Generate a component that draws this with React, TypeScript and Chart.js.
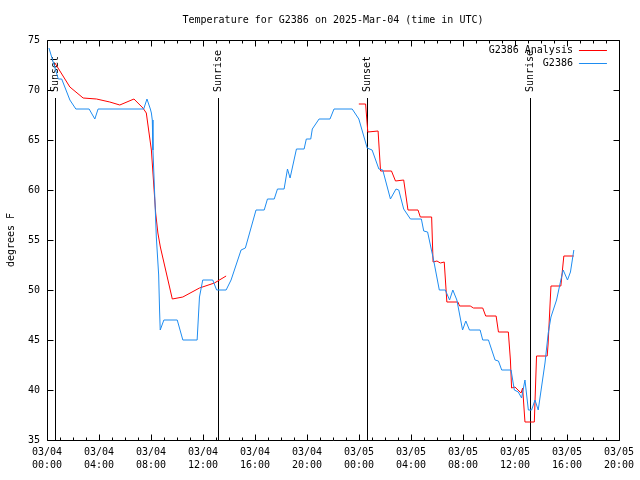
import React, { useEffect, useRef } from "react";
import { Chart, registerables } from "chart.js";

Chart.register(...registerables);

// ---- Data (x = hours since 03/04 00:00 UTC) ----
const blueHours = [
  0.15, 0.87, 1.13, 1.76, 2.22, 3.24, 3.68, 3.93, 7.44, 7.69, 7.95, 8.03, 8.1, 8.15,
  8.28, 8.41, 8.59, 8.66, 8.71, 8.99, 10.02, 10.45, 11.55, 11.73, 11.98, 12.75, 13.05,
  13.78, 14.16, 14.93, 15.26, 16.08, 16.71, 16.96, 17.48, 17.73, 18.24, 18.5, 18.7,
  19.19, 19.78, 19.95, 20.29, 20.41, 20.93, 21.77, 22.08, 23.48, 23.99, 24.63, 25.01,
  25.53, 25.83, 26.42, 26.85, 27.06, 27.44, 27.96, 28.8, 28.98, 29.28, 29.74, 30.18,
  30.64, 30.97, 31.22, 31.53, 31.97, 32.22, 32.5, 33.32, 33.52, 33.96, 34.47, 34.73,
  34.98, 35.7, 35.95, 36.26, 36.51, 36.77, 37.03, 37.28, 37.54, 37.79, 38.31, 38.56,
  38.77, 39.2, 39.53, 39.71, 40.04, 40.27, 40.53,
];
const blueTemps = [
  74.2, 71.1, 71.1, 69.0, 68.1, 68.1, 67.1, 68.1, 68.1, 69.1, 68.1, 67.7, 67.0, 64.0,
  59.7, 55.3, 51.5, 48.0, 46.0, 47.0, 47.0, 45.0, 45.0, 49.3, 51.0, 51.0, 50.0,
  50.0, 51.0, 54.0, 54.2, 58.0, 58.0, 59.1, 59.1, 60.1, 60.1, 62.1, 61.2,
  64.1, 64.1, 65.1, 65.1, 66.1, 67.1, 67.1, 68.1, 68.1, 67.1, 64.2, 64.0,
  62.1, 62.0, 59.1, 60.1, 60.0, 58.1, 57.1, 57.1, 55.9, 55.8, 53.0, 50.0,
  50.0, 49.0, 50.0, 49.0, 46.0, 46.9, 46.0, 46.0, 45.0, 45.0, 43.0, 42.9,
  42.0, 42.0, 40.0, 39.8, 39.2, 41.0, 38.0, 38.0, 39.0, 38.0, 42.7, 45.7,
  47.3, 49.0, 51.0, 52.0, 51.0, 51.8, 54.0,
];

const analysisHours = [
  0.61, 1.76, 2.78, 3.81, 4.83, 5.6, 6.69, 7.38, 7.64, 8.03, 8.36, 8.53, 8.72, 9.64,
  10.45, 11.73, 12.88, 13.78,
  18.0,
  23.99, 24.51, 24.68, 25.47, 25.66, 26.5, 26.81, 27.44, 27.77, 28.54, 28.72, 29.59,
  29.7, 30.0, 30.26, 30.56, 30.76, 31.61, 31.74, 32.56, 32.81, 33.52, 33.75, 34.55,
  34.73, 35.49, 35.65, 35.74, 36.0, 36.47, 36.59, 36.77, 37.49, 37.66, 38.48, 38.55,
  38.77, 39.53, 39.76, 40.53,
];
const analysisTemps: (number | null)[] = [
  72.7, 70.3, 69.2, 69.1, 68.8, 68.5, 69.1, 68.2, 67.7, 64.0, 57.7, 55.7, 54.3, 49.1,
  49.3, 50.2, 50.7, 51.4,
  null,
  68.6, 68.6, 65.8, 65.9, 61.9, 61.9, 60.9, 61.0, 58.0, 58.0, 57.3, 57.3,
  52.8, 52.9, 52.7, 52.8, 48.8, 48.8, 48.4, 48.4, 48.2, 48.2, 47.4, 47.4,
  45.8, 45.8, 43.0, 40.2, 40.3, 39.7, 40.2, 36.8, 36.8, 43.4, 43.4, 44.6,
  50.4, 50.4, 53.4, 53.4,
];

const sunHours = [0.58, 13.13, 24.63, 37.13];
const sunLabels = ["Sunset", "Sunrise", "Sunset", "Sunrise"];

const seriesNames = ["G2386 Analysis", "G2386"];
const seriesColors = ["#ff0000", "#1e8cf0"];

const xMin = 0;
const xMax = 44;
const yMin = 35;
const yMax = 75;
const titleText = "Temperature for G2386 on 2025-Mar-04 (time in UTC)";
const yTitle = "degrees F";

const FONT = "'DejaVu Sans Mono', 'Liberation Mono', monospace";

function tickLabel(v: number): string[] {
  const day = 4 + Math.floor(v / 24);
  const hr = v % 24;
  return ["03/0" + day, (hr < 10 ? "0" : "") + hr + ":00"];
}

const gnuplotPlugin = {
  id: "gnuplotDecor",
  beforeDatasetsDraw(chart: any) {
    const ctx = chart.ctx;
    const xs = chart.scales.x;
    const a = chart.chartArea;
    ctx.save();
    ctx.strokeStyle = "#000";
    ctx.lineWidth = 1;
    ctx.fillStyle = "#000";
    ctx.font = "10px " + FONT;
    sunHours.forEach((h, i) => {
      const px = Math.round(xs.getPixelForValue(h)) + 0.5;
      ctx.beginPath();
      ctx.moveTo(px, a.bottom);
      ctx.lineTo(px, a.top + 58);
      ctx.stroke();
      ctx.save();
      ctx.translate(px, a.top + 52);
      ctx.rotate(-Math.PI / 2);
      ctx.textAlign = "left";
      ctx.textBaseline = "middle";
      ctx.fillText(sunLabels[i], 0, 0);
      ctx.restore();
    });
    ctx.restore();
  },
  afterDraw(chart: any) {
    const ctx = chart.ctx;
    const xs = chart.scales.x;
    const ys = chart.scales.y;
    const a = chart.chartArea;
    const L = Math.round(a.left) + 0.5;
    const R = Math.round(a.right) + 0.5;
    const T = Math.round(a.top) + 0.5;
    const B = Math.round(a.bottom) + 0.5;
    ctx.save();
    ctx.strokeStyle = "#000";
    ctx.lineWidth = 1;
    ctx.beginPath();
    ctx.moveTo(L, T);
    ctx.lineTo(R, T);
    ctx.lineTo(R, B);
    ctx.lineTo(L, B);
    ctx.closePath();
    ctx.stroke();
    // x ticks (major every 4h, minor every hour), inward, bottom and top
    ctx.beginPath();
    for (let h = xMin; h <= xMax; h++) {
      const px = Math.round(xs.getPixelForValue(h)) + 0.5;
      const len = h % 4 === 0 ? 6 : 3;
      ctx.moveTo(px, B);
      ctx.lineTo(px, B - len);
      ctx.moveTo(px, T);
      ctx.lineTo(px, T + len);
    }
    for (let v = yMin; v <= yMax; v += 5) {
      const py = Math.round(ys.getPixelForValue(v)) + 0.5;
      ctx.moveTo(L, py);
      ctx.lineTo(L + 6, py);
      ctx.moveTo(R, py);
      ctx.lineTo(R - 6, py);
    }
    ctx.stroke();

    ctx.fillStyle = "#000";
    ctx.font = "10px " + FONT;
    // title
    ctx.textAlign = "center";
    ctx.textBaseline = "middle";
    ctx.fillText(titleText, (a.left + a.right) / 2, 20);
    // y title
    ctx.save();
    ctx.translate(11, (a.top + a.bottom) / 2);
    ctx.rotate(-Math.PI / 2);
    ctx.fillText(yTitle, 0, 0);
    ctx.restore();
    // legend
    ctx.textAlign = "right";
    seriesNames.forEach((name, i) => {
      const y = a.top + 10 + i * 13;
      ctx.fillStyle = "#000";
      ctx.fillText(name, a.right - 46, y);
      ctx.strokeStyle = seriesColors[i];
      ctx.beginPath();
      ctx.moveTo(a.right - 40, Math.round(y) + 0.5);
      ctx.lineTo(a.right - 12, Math.round(y) + 0.5);
      ctx.stroke();
    });
    ctx.restore();
  },
};

export default function App() {
  const ref = useRef<HTMLCanvasElement | null>(null);
  useEffect(() => {
    if (!ref.current) return;
    const chart = new Chart(ref.current, {
      type: "line",
      data: {
        datasets: [
          {
            label: seriesNames[1],
            data: blueHours.map((h, i) => ({ x: h, y: blueTemps[i] })),
            borderColor: seriesColors[1],
            borderWidth: 1,
            pointRadius: 0,
            tension: 0,
            fill: false,
          },
          {
            label: seriesNames[0],
            data: analysisHours.map((h, i) => ({ x: h, y: analysisTemps[i] })) as any,
            borderColor: seriesColors[0],
            borderWidth: 1,
            pointRadius: 0,
            tension: 0,
            fill: false,
            spanGaps: false,
          },
        ],
      },
      options: {
        animation: false,
        responsive: false,
        maintainAspectRatio: false,
        layout: { padding: { top: 40, right: 19, left: 0, bottom: 0 } },
        plugins: {
          legend: { display: false },
          tooltip: { enabled: false },
          title: { display: false },
        },
        scales: {
          x: {
            type: "linear",
            min: xMin,
            max: xMax,
            grid: { display: false, drawTicks: false },
            border: { display: false },
            ticks: {
              stepSize: 4,
              autoSkip: false,
              maxRotation: 0,
              minRotation: 0,
              padding: 6,
              color: "#000",
              font: { family: FONT, size: 10, lineHeight: 1.3 },
              callback: (v: any) => tickLabel(Number(v)),
            },
            afterFit: (s: any) => {
              s.height = 40;
            },
          },
          y: {
            type: "linear",
            min: yMin,
            max: yMax,
            grid: { display: false, drawTicks: false },
            border: { display: false },
            ticks: {
              stepSize: 5,
              padding: 7,
              color: "#000",
              font: { family: FONT, size: 10 },
            },
            afterFit: (s: any) => {
              s.width = 47;
            },
          },
        },
      },
      plugins: [gnuplotPlugin],
    });
    return () => chart.destroy();
  }, []);
  return (
    <div style={{ position: "absolute", left: 0, top: 0, width: 640, height: 480, background: "#fff" }}>
      <canvas ref={ref} width={640} height={480} />
    </div>
  );
}
